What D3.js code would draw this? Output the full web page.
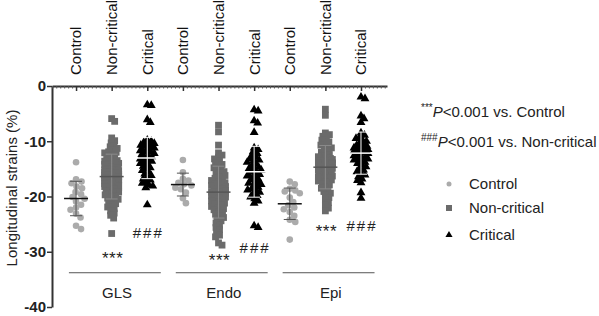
<!DOCTYPE html>
<html>
<head>
<meta charset="utf-8">
<script src="https://cdn.jsdelivr.net/npm/d3@7"></script>
<style>
  body { margin: 0; background: #fff; }
  text { font-family: Arial, "Liberation Sans", sans-serif; }
</style>
</head>
<body>
<script>
// column labels along the top, in order
var categories = ["Control", "Non-critical", "Critical",
                  "Control", "Non-critical", "Critical",
                  "Control", "Non-critical", "Critical"];
var groups = ["GLS", "Endo", "Epi"];
var yTicks = [0, -10, -20, -30, -40];

// longitudinal strain (%) per patient
var glsControl = [-13.8, -16.9, -17.3, -17.6, -18.2, -18.5, -19.2, -19.6, -20.1, -20.4,
                  -20.9, -21.5, -22.0, -22.4, -23.1, -23.8, -25.3, -25.9];
var glsNonCritical = [-5.9, -6.4, -9.4, -9.9, -10.3, -10.8, -11.0, -11.3, -11.6, -11.9, -12.0,
                  -12.1, -12.4, -12.6, -12.9, -13.1, -13.3, -13.5, -13.6, -13.8, -14.0, -14.1,
                  -14.2, -14.3, -14.6, -14.8, -15.0, -15.1, -15.2, -15.3, -15.5, -15.6, -15.8,
                  -16.0, -16.1, -16.2, -16.3, -16.4, -16.6, -16.8, -16.9, -17.0, -17.1, -17.2,
                  -17.4, -17.6, -17.7, -17.9, -18.0, -18.1, -18.2, -18.4, -18.6, -18.8, -19.0,
                  -19.1, -19.2, -19.3, -19.5, -19.7, -19.9, -20.1, -20.3, -20.5, -20.8, -21.0,
                  -21.3, -21.6, -21.9, -22.2, -22.6, -23.0, -23.4, -23.9, -26.7];
var glsCritical = [-3.4, -3.5, -6.1, -6.6, -9.8, -10.0, -10.2, -10.4, -10.5, -10.7, -10.9,
                  -11.0, -11.2, -11.4, -11.5, -11.7, -11.9, -12.0, -12.2, -12.4, -12.6, -12.8,
                  -13.0, -13.2, -13.4, -13.6, -13.8, -14.0, -14.2, -14.5, -14.8, -15.0, -15.3,
                  -15.6, -15.9, -16.2, -16.5, -16.8, -17.0, -17.3, -17.6, -17.9, -18.1, -18.4,
                  -21.5];
var endoControl = [-13.4, -15.6, -16.8, -17.1, -17.5, -17.8, -18.0, -18.4, -18.7, -19.3,
                  -20.3, -21.2];
var endoNonCritical = [-7.1, -8.3, -10.7, -12.1, -12.5, -12.9, -13.2, -13.6, -13.9, -14.2,
                  -14.5, -14.8, -15.0, -15.3, -15.5, -15.8, -16.0, -16.2, -16.5, -16.7, -16.9,
                  -17.1, -17.3, -17.5, -17.7, -17.9, -18.0, -18.2, -18.4, -18.6, -18.7, -18.9,
                  -19.1, -19.2, -19.4, -19.6, -19.7, -19.9, -20.1, -20.2, -20.4, -20.6, -20.8,
                  -21.0, -21.2, -21.4, -21.6, -21.8, -22.0, -22.2, -22.4, -22.7, -22.9, -23.2,
                  -23.5, -23.8, -24.1, -24.4, -24.8, -25.2, -25.6, -26.0, -26.5, -27.0, -27.3,
                  -28.4, -28.8];
var endoCritical = [-4.3, -4.5, -6.3, -6.7, -8.4, -11.2, -11.5, -11.9, -12.2, -12.6, -12.9,
                  -13.2, -13.4, -13.5, -13.8, -14.1, -14.4, -14.7, -14.9, -15.0, -15.2, -15.5,
                  -15.8, -16.0, -16.1, -16.3, -16.5, -16.8, -17.0, -17.3, -17.5, -17.6, -17.8,
                  -18.0, -18.3, -18.6, -18.8, -18.9, -19.2, -19.5, -19.8, -20.1, -20.4, -20.8,
                  -21.2, -25.3, -25.6];
var epiControl = [-17.3, -17.8, -18.6, -18.9, -19.1, -19.4, -20.2, -21.0, -21.6, -22.0,
                  -22.3, -22.8, -23.5, -24.2, -24.6, -27.8];
var epiNonCritical = [-4.2, -5.3, -8.5, -8.8, -9.1, -9.5, -9.8, -10.1, -10.4, -10.7, -11.0,
                  -11.2, -11.5, -11.7, -12.0, -12.2, -12.4, -12.7, -12.8, -12.9, -13.1, -13.3,
                  -13.5, -13.6, -13.7, -13.9, -14.0, -14.1, -14.3, -14.5, -14.7, -14.9, -15.0,
                  -15.1, -15.2, -15.4, -15.6, -15.8, -16.0, -16.2, -16.3, -16.4, -16.6, -16.8,
                  -17.0, -17.1, -17.2, -17.4, -17.7, -17.9, -18.2, -18.5, -18.8, -19.1, -19.4,
                  -19.8, -20.2, -20.6, -21.1, -21.6, -22.1, -22.6];
var epiCritical = [-2.0, -2.3, -5.4, -5.9, -6.6, -8.5, -8.9, -9.2, -9.5, -9.8, -10.0, -10.3,
                  -10.5, -10.8, -10.9, -11.0, -11.2, -11.4, -11.5, -11.6, -11.8, -12.0, -12.1,
                  -12.2, -12.4, -12.6, -12.8, -13.0, -13.1, -13.2, -13.4, -13.6, -13.8, -14.0,
                  -14.3, -14.6, -14.9, -15.2, -15.5, -15.8, -16.1, -16.4, -16.8, -17.1, -17.5,
                  -19.3, -20.3];

var series = [glsControl, glsNonCritical, glsCritical,
              endoControl, endoNonCritical, endoCritical,
              epiControl, epiNonCritical, epiCritical];

// significance marks: column index, symbol, value where the baseline sits
var sigMarks = [[1, "***", -32.2], [2, "###", -27.5],
                [4, "***", -32.5], [5, "###", -30.2],
                [7, "***", -27.3], [8, "###", -26.2]];

var width = 599, height = 316;
var svg = d3.select("body").append("svg").attr("width", width).attr("height", height);

var x = d3.scaleLinear().domain([-0.675, 8.73]).range([52, 387]);
var y = d3.scaleLinear().domain([-40, 0]).range([307, 86]);

var fill = ["#ababab", "#6b6b6b", "#000"];
var kind = function(i) { return i % 3; };

// y axis
var yAxis = svg.append("g")
    .attr("transform", "translate(" + x.range()[0] + ",0)")
    .call(d3.axisLeft(y).tickValues(yTicks).tickSize(5).tickSizeOuter(0)
          .tickFormat(function(d) { return String(d); }));
yAxis.select(".domain").attr("stroke", "#333").attr("stroke-width", 2);
yAxis.selectAll(".tick line").attr("stroke", "#333").attr("stroke-width", 1.5);
yAxis.selectAll(".tick text").attr("font-size", 15).attr("font-weight", "bold")
    .attr("fill", "#222").attr("x", -6);

// x axis at zero, minor ticks then major ticks
svg.append("g")
    .attr("transform", "translate(0," + y(0) + ")")
    .call(d3.axisBottom(x).tickValues(d3.range(-6, 79).map(function(i) { return i / 9; }))
          .tickSize(2.5).tickSizeOuter(0).tickFormat(""))
    .call(function(g) {
      g.select(".domain").attr("stroke", "#333").attr("stroke-width", 2);
      g.selectAll(".tick line").attr("stroke", "#555");
    });
svg.append("g")
    .attr("transform", "translate(0," + y(0) + ")")
    .call(d3.axisBottom(x).tickValues(d3.range(categories.length)).tickSize(5)
          .tickSizeOuter(0).tickFormat(""))
    .call(function(g) {
      g.select(".domain").remove();
      g.selectAll(".tick line").attr("stroke", "#333").attr("stroke-width", 1.5);
    });

// column names on top
svg.selectAll(".catlabel").data(categories).enter().append("text")
    .attr("class", "catlabel")
    .attr("transform", function(d, i) { return "translate(" + x(i) + ",75) rotate(-90)"; })
    .attr("dy", "0.36em")
    .attr("font-size", 15)
    .attr("fill", "#111")
    .text(function(d) { return d; });

// y label
svg.append("text")
    .attr("transform", "translate(12," + 188 + ") rotate(-90)")
    .attr("text-anchor", "middle")
    .attr("dy", "0.36em")
    .attr("font-size", 15)
    .attr("fill", "#222")
    .text("Longitudinal strains (%)");

// simple swarm layout: spread overlapping points sideways
function swarm(vals, d, maxOff) {
  var pts = vals.map(function(v) { return {v: v, py: y(v), dx: 0}; })
      .sort(function(a, b) { return a.py - b.py; });
  var placed = [];
  pts.forEach(function(p) {
    var chosen = null;
    for (var k = 0; k < 80 && chosen === null; k++) {
      var cands = k === 0 ? [0] : [k * 0.5, -k * 0.5];
      for (var c = 0; c < cands.length; c++) {
        var cx = cands[c], ok = true;
        for (var j = 0; j < placed.length; j++) {
          var q = placed[j];
          var ddy = p.py - q.py;
          if (Math.abs(ddy) >= d) continue;
          var ddx = cx - q.dx;
          if (ddx * ddx + ddy * ddy < d * d) { ok = false; break; }
        }
        if (ok) { chosen = cx; break; }
      }
    }
    if (chosen === null) chosen = 0;
    p.dx = Math.max(-maxOff, Math.min(maxOff, chosen));
    placed.push(p);
  });
  return pts;
}

var triangle = d3.symbol().type(d3.symbolTriangle).size(34);

series.forEach(function(vals, i) {
  var cx = x(i), k = kind(i);
  var pts = k === 0 ? swarm(vals, 5.6, 10) : swarm(vals, 3.9, 7);
  var g = svg.append("g");
  if (k === 0) {
    g.selectAll("circle").data(pts).enter().append("circle")
        .attr("cx", function(p) { return cx + p.dx; })
        .attr("cy", function(p) { return p.py; })
        .attr("r", 3.3)
        .attr("fill", fill[0]);
  } else if (k === 1) {
    g.selectAll("rect").data(pts).enter().append("rect")
        .attr("x", function(p) { return cx + p.dx - 3.4; })
        .attr("y", function(p) { return p.py - 3.4; })
        .attr("width", 6.8).attr("height", 6.8)
        .attr("fill", fill[1]);
  } else {
    g.selectAll("path").data(pts).enter().append("path")
        .attr("transform", function(p) { return "translate(" + (cx + p.dx) + "," + p.py + ")"; })
        .attr("d", triangle)
        .attr("fill", fill[2]);
  }

  // mean and SD
  var m = d3.mean(vals), sd = d3.deviation(vals);
  var barColor = k === 2 ? "#fff" : (k === 1 ? "#8a8a8a" : "#555");
  g.append("line")
      .attr("x1", cx).attr("x2", cx).attr("y1", y(m + sd)).attr("y2", y(m - sd))
      .attr("stroke", barColor).attr("stroke-width", 1);
  [m + sd, m - sd].forEach(function(v) {
    g.append("line")
        .attr("x1", cx - 6).attr("x2", cx + 6).attr("y1", y(v)).attr("y2", y(v))
        .attr("stroke", barColor).attr("stroke-width", 1);
  });
  g.append("line")
      .attr("x1", cx - 12).attr("x2", cx + 12).attr("y1", y(m)).attr("y2", y(m))
      .attr("stroke", k === 2 ? "#fff" : (k === 1 ? "#555" : "#111")).attr("stroke-width", 1.5);
});

// significance marks
svg.selectAll(".sig").data(sigMarks).enter().append("text")
    .attr("class", "sig")
    .attr("x", function(d) { return x(d[0]) + 1; })
    .attr("y", function(d) { return y(d[2]); })
    .attr("text-anchor", "middle")
    .attr("font-size", function(d) { return d[1] === "***" ? 17 : 15; })
    .attr("letter-spacing", function(d) { return d[1] === "***" ? 0.5 : 2; })
    .attr("fill", "#222")
    .text(function(d) { return d[1]; });

// group brackets
groups.forEach(function(name, gi) {
  var a = gi * 3, b = gi * 3 + 2;
  svg.append("line")
      .attr("x1", x(a - 0.2)).attr("x2", x(b + 0.38))
      .attr("y1", y(-33.8)).attr("y2", y(-33.8))
      .attr("stroke", "#555").attr("stroke-width", 1);
  svg.append("text")
      .attr("x", x((a + b) / 2 + 0.15))
      .attr("y", 298)
      .attr("text-anchor", "middle")
      .attr("font-size", 15)
      .attr("fill", "#222")
      .text(name);
});

// notes on the right
var notes = [["***", "<0.001 vs. Control", 117], ["###", "<0.001 vs. Non-critical", 147]];
notes.forEach(function(n) {
  var t = svg.append("text").attr("x", 421).attr("y", n[2]).attr("font-size", 15).attr("fill", "#222");
  t.append("tspan").attr("font-size", 10).attr("dy", -6).text(n[0]);
  t.append("tspan").attr("font-style", "italic").attr("dy", 6).text("P");
  t.append("tspan").text(n[1]);
});

// legend
var legendY = [184, 208, 235];
["Control", "Non-critical", "Critical"].forEach(function(name, i) {
  var ly = legendY[i];
  if (i === 0) {
    svg.append("circle").attr("cx", 449).attr("cy", ly).attr("r", 2.5).attr("fill", fill[0]);
  } else if (i === 1) {
    svg.append("rect").attr("x", 446).attr("y", ly - 3).attr("width", 6).attr("height", 6).attr("fill", fill[1]);
  } else {
    svg.append("path").attr("transform", "translate(449," + ly + ")")
        .attr("d", d3.symbol().type(d3.symbolTriangle).size(22)).attr("fill", "#000");
  }
  svg.append("text").attr("x", 469).attr("y", ly).attr("dy", "0.36em")
      .attr("font-size", 15).attr("fill", "#222").text(name);
});
</script>
</body>
</html>
